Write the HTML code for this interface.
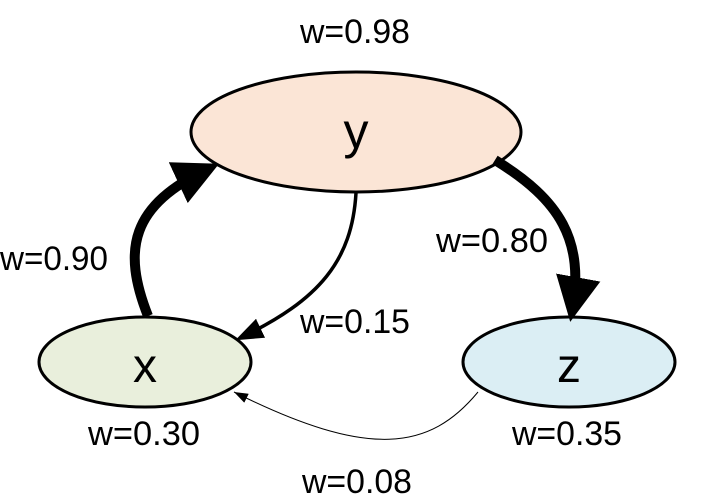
<!DOCTYPE html>
<html><head><meta charset="utf-8"><style>
html,body{margin:0;padding:0;background:#fff;}
svg{display:block;}
text{font-family:"Liberation Sans",Arial,sans-serif;fill:#000;}
</style></head><body>
<svg width="709" height="500" viewBox="0 0 709 500" xmlns="http://www.w3.org/2000/svg">
<defs>
<marker id="big" markerWidth="4.5" markerHeight="4.5" refX="3.5" refY="2.25" orient="auto" markerUnits="strokeWidth"><path d="M0,0 L4.5,2.25 L0,4.5 Z" fill="#000"/></marker>
<marker id="mid" markerWidth="8" markerHeight="6" refX="6.5" refY="3" orient="auto" markerUnits="strokeWidth"><path d="M0,0 L8,3 L0,6 Z" fill="#000"/></marker>
<marker id="sm" markerWidth="14" markerHeight="10" refX="14" refY="5" orient="auto" markerUnits="userSpaceOnUse"><path d="M0,0 L14,5 L0,10 Z" fill="#000"/></marker>
</defs>
<ellipse cx="356" cy="132" rx="165" ry="60" fill="#fbe5d6" stroke="#000" stroke-width="3"/>
<ellipse cx="145" cy="362" rx="106" ry="45" fill="#e9efdc" stroke="#000" stroke-width="3"/>
<ellipse cx="569" cy="362" rx="106" ry="45" fill="#dbeef4" stroke="#000" stroke-width="3"/>
<path d="M148,316 C122,250 130,205 210,168" fill="none" stroke="#000" stroke-width="10" marker-end="url(#big)"/>
<path d="M495,160 C560,200 585,240 572,312" fill="none" stroke="#000" stroke-width="10" marker-end="url(#big)"/>
<path d="M356,193 C352,260 320,300 240,338" fill="none" stroke="#000" stroke-width="3.5" marker-end="url(#mid)"/>
<path d="M478,392 C430,450 370,460 234,392" fill="none" stroke="#000" stroke-width="1" marker-end="url(#sm)"/>
<text x="300" y="43" font-size="34" textLength="110" lengthAdjust="spacingAndGlyphs">w=0.98</text>
<text x="356" y="148" font-size="50" text-anchor="middle">y</text>
<text x="145" y="382" font-size="48" text-anchor="middle">x</text>
<text x="569" y="382" font-size="48" text-anchor="middle">z</text>
<text x="0" y="270" font-size="34" textLength="108" lengthAdjust="spacingAndGlyphs">w=0.90</text>
<text x="436" y="252" font-size="34" textLength="112" lengthAdjust="spacingAndGlyphs">w=0.80</text>
<text x="300" y="333" font-size="34" textLength="110" lengthAdjust="spacingAndGlyphs">w=0.15</text>
<text x="88" y="445" font-size="34" textLength="112" lengthAdjust="spacingAndGlyphs">w=0.30</text>
<text x="512" y="445" font-size="34" textLength="110" lengthAdjust="spacingAndGlyphs">w=0.35</text>
<text x="302" y="493" font-size="34" textLength="110" lengthAdjust="spacingAndGlyphs">w=0.08</text>
</svg>
</body></html>
